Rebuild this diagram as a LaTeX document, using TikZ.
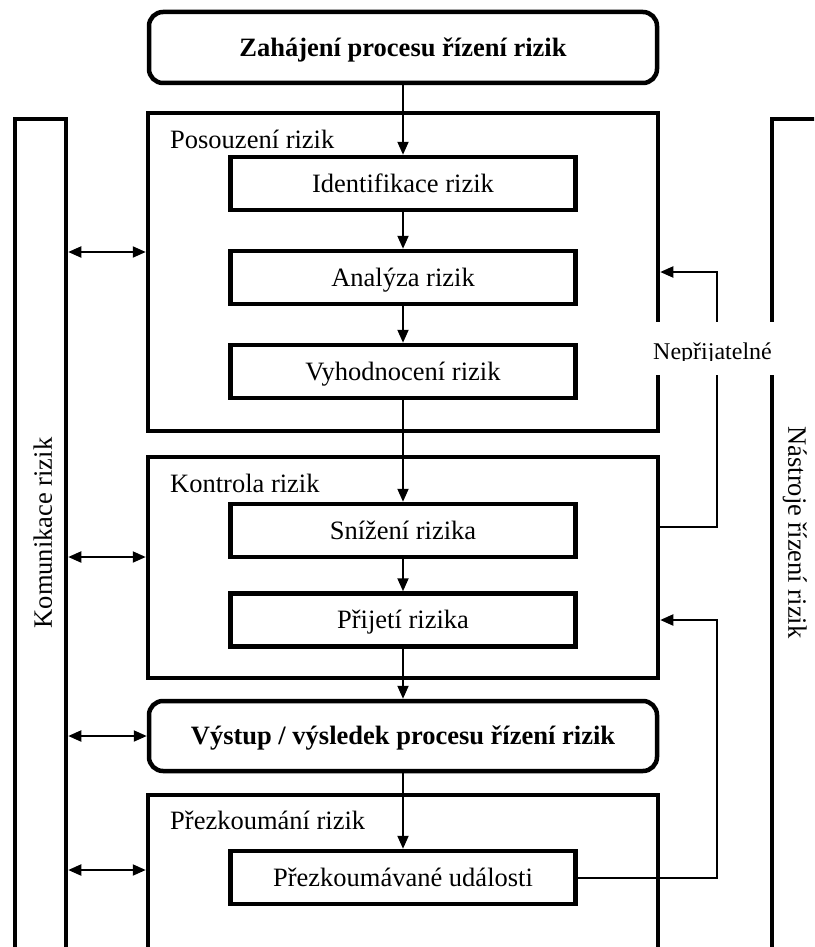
\documentclass[tikz,border=0pt]{standalone}
\usepackage{fontspec}
\setmainfont{Liberation Serif}
\usetikzlibrary{arrows.meta}
\begin{document}
\begin{tikzpicture}[x=1pt,y=-1pt,
  txt/.style={font=\fontsize{26.5}{30}\selectfont, text height=17.5pt, text depth=0pt, inner sep=0pt},
  heavy/.style={draw, line width=4.5pt},
  stepbox/.style={heavy, txt, minimum width=345pt, minimum height=53pt},
  milestone/.style={heavy, txt, font=\fontsize{26.5}{30}\selectfont\bfseries, rounded corners=14pt, minimum width=508pt},
  phase/.style={heavy, minimum width=510pt, inner sep=0pt},
  sidebar/.style={heavy, minimum height=841pt, inner sep=0pt},
  grouplabel/.style={font=\fontsize{26.5}{30}\selectfont, anchor=base west, inner sep=0pt},
  tip/.tip={Triangle[length=13pt, width=11pt]},
  flow/.style={line width=2pt, -tip},
  both/.style={line width=2pt, tip-tip},
]
\useasboundingbox (0,0) rectangle (814,947);
\clip (0,0) rectangle (814,947);

% side bars
\node[sidebar, minimum width=51pt] (comm) at (40.5,539.5) {};
\node[txt, rotate=90] (commtxt) at (43,533) {Komunikace rizik};
\node[sidebar, minimum width=53pt] (tools) at (798.5,539.5) {};
\node[txt, rotate=-90] (toolstxt) at (797,532.5) {Nástroje řízení rizik};

% process phases
\node[phase, minimum height=318pt] (assess) at (403,272) {};
\node[grouplabel] (assessLbl) at (170,148) {Posouzení rizik};
\node[phase, minimum height=221pt] (ctrl) at (403,567.5) {};
\node[grouplabel] (ctrlLbl) at (170,492) {Kontrola rizik};
\node[phase, minimum height=165pt] (revw) at (403,877.5) {};
\node[grouplabel] (revwLbl) at (170,829) {Přezkoumání rizik};

% milestones
\node[milestone, minimum height=71pt] (start) at (403,47.5) {Zahájení procesu řízení rizik};
\node[milestone, minimum height=70pt] (output) at (403,736) {Výstup / výsledek procesu řízení rizik};

% steps
\node[stepbox] (ident) at (403,183.5) {Identifikace rizik};
\node[stepbox] (anal) at (403,277.5) {Analýza rizik};
\node[stepbox] (eval) at (403,371.5) {Vyhodnocení rizik};
\node[stepbox] (reduce) at (403,530.5) {Snížení rizika};
\node[stepbox] (accept) at (403,620) {Přijetí rizika};
\node[stepbox] (events) at (403,877.5) {Přezkoumávané události};

% main flow
\draw[flow] (start) -- (ident);
\draw[flow] (ident) -- (anal);
\draw[flow] (anal) -- (eval);
\draw[flow] (eval) -- (reduce);
\draw[flow] (reduce) -- (accept);
\draw[flow] (accept) -- (output);
\draw[flow] (output) -- (events);

% communication links
\coordinate (h1) at (0,252);
\coordinate (h2) at (0,557);
\coordinate (h3) at (0,736);
\coordinate (h4) at (0,870);
\draw[both] (comm.east |- h1) -- (assess.west |- h1);
\draw[both] (comm.east |- h2) -- (ctrl.west |- h2);
\draw[both] (comm.east |- h3) -- (output.west |- h3);
\draw[both] (comm.east |- h4) -- (revw.west |- h4);

% feedback loops
\coordinate (fbTop) at (717,272);
\coordinate (fbLow) at (717,527);
\coordinate (fbRev) at (717,620);
\draw[flow] (ctrl.east |- fbLow) -- (fbLow) -- (fbTop) -- (assess.east |- fbTop);
\draw[flow] (events.east) -- (events.east -| fbRev) -- (fbRev) -- (ctrl.east |- fbRev);

% label of the upper loop
\node[fill=white, minimum width=128pt, minimum height=53pt, inner sep=0pt] (unacc) at (714,348.5) {};
\begin{scope}
  \clip (650,322) rectangle (778,360);
  \node[font=\fontsize{24}{28}\selectfont, anchor=base, inner sep=0pt] (unaccTxt) at (712.5,359) {Nepřijatelné};
\end{scope}
\end{tikzpicture}
\end{document}
